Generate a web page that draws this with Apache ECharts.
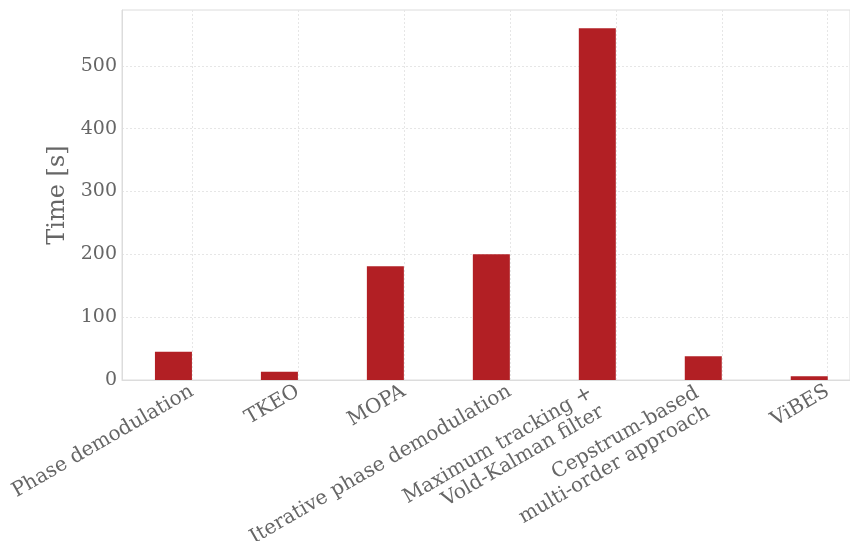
<!DOCTYPE html>
<html>
<head>
<meta charset="utf-8">
<script src="https://cdn.jsdelivr.net/npm/echarts@6/dist/echarts.min.js"></script>
<style>
html, body { margin: 0; padding: 0; background: #fff; }
#main { width: 850px; height: 541px; }
</style>
</head>
<body>
<div id="main"></div>
<script>
// methods on the x axis
var methods = ['Phase demodulation', 'TKEO', 'MOPA', 'Iterative phase demodulation',
	'Maximum tracking +\nVold-Kalman filter', 'Cepstrum-based\nmulti-order approach', 'ViBES'];
// computation time in seconds
var times = [45, 13, 181, 200, 560, 38, 6];
var yTicks = [0, 100, 200, 300, 400, 500];

var positions = methods.map(function (m, i) { return i; });

// two-line labels sit a bit further back, like the original
function labelText(v) {
	var name = methods[Math.round(v)];
	if (name.indexOf('\n') < 0) return '{a|' + name + '}';
	return name.split('\n').map(function (s) { return '{b|' + s + '}'; }).join('\n');
}

function drawChart() {
	var myChart = echarts.init(document.getElementById('main'));
	var textColor = '#666';
	var gridColor = '#e6e6e6';
	var option = {
		animation: false,
		grid: {
			left: 122, right: 0, top: 10, bottom: 161,
			outerBoundsMode: 'none',
			containLabel: false,
			show: true, borderColor: '#dcdcdc', borderWidth: 1
		},
		xAxis: {
			type: 'value',
			min: -0.66,
			max: 6.21,
			axisLine: { show: true, onZero: false, lineStyle: { color: '#dcdcdc' } },
			axisTick: { show: false, customValues: positions },
			axisLabel: {
				customValues: positions,
				rotate: 30,
				margin: 10,
				color: textColor,
				fontFamily: 'DejaVu Serif',
				fontSize: 20,
				lineHeight: 22,
				align: 'right',
				formatter: labelText,
				rich: {
					a: { fontFamily: 'DejaVu Serif', fontSize: 20, color: textColor, lineHeight: 22 },
					b: { fontFamily: 'DejaVu Serif', fontSize: 20, color: textColor, lineHeight: 22, padding: [0, 22, 0, 0] }
				}
			},
			splitLine: { show: true, lineStyle: { color: gridColor, type: [2, 2] } }
		},
		yAxis: {
			type: 'value',
			min: 0,
			max: 589,
			name: 'Time [s]',
			nameLocation: 'middle',
			nameGap: 40,
			nameTextStyle: { color: textColor, fontFamily: 'DejaVu Serif', fontSize: 24 },
			axisLine: { show: true, onZero: false, lineStyle: { color: '#dcdcdc' } },
			axisTick: { show: false, customValues: yTicks },
			axisLabel: {
				customValues: yTicks,
				margin: 5,
				color: textColor,
				fontFamily: 'DejaVu Serif',
				fontSize: 19
			},
			splitLine: { show: true, lineStyle: { color: gridColor, type: [2, 2] } }
		},
		series: [{
			type: 'bar',
			barWidth: 37,
			barGap: '0%',
			itemStyle: { color: '#b21f24' },
			data: times.map(function (t, i) { return [positions[i], t]; })
		}, {
			type: 'bar',
			barWidth: 37,
			barGap: '0%',
			data: []
		}]
	};
	myChart.setOption(option);
}
drawChart();
</script>
</body>
</html>
